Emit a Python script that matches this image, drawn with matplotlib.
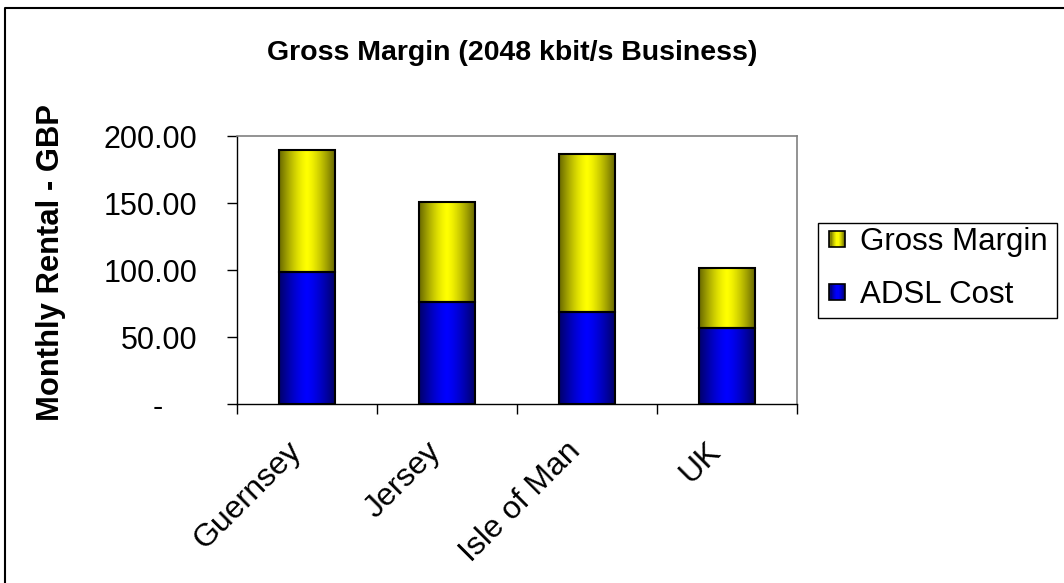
import numpy as np
import matplotlib
matplotlib.use("Agg")
import matplotlib.pyplot as plt
from matplotlib.patches import Rectangle, Patch
from matplotlib.lines import Line2D
from matplotlib.legend_handler import HandlerBase
from matplotlib.colors import to_rgb

# Monthly rental per territory (GBP), split into wholesale cost and margin
countries = ["Guernsey", "Jersey", "Isle of Man", "UK"]
adsl_cost = [98.4, 76.3, 68.6, 56.7]
gross_margin = [91.2, 74.7, 118.2, 44.9]
y_ticks = [0, 50, 100, 150, 200]
y_tick_labels = ["-    ", "50.00", "100.00", "150.00", "200.00"]
series_names = ["Gross Margin", "ADSL Cost"]

YELLOW = "#FFFF00"
BLUE = "#0000FF"

plt.rcParams["font.family"] = ["Liberation Sans", "DejaVu Sans"]

W, H = 1064, 583


def shade_profile(n):
    t = np.linspace(0, 1, n)
    return 1 - 0.6 * np.abs(2 * (t - 0.5)) ** 1.4


def gradient_rgb(color, n=256):
    base = np.array(to_rgb(color))
    return shade_profile(n)[:, None] * base[None, :]


class GradientHandler(HandlerBase):
    def __init__(self, color):
        super().__init__()
        self.color = color

    def create_artists(self, legend, orig_handle, xdescent, ydescent,
                       width, height, fontsize, trans):
        s = min(width, height)
        x0 = -xdescent + (width - s) / 2
        y0 = -ydescent + (height - s) / 2
        cols = gradient_rgb(self.color, 14)
        n = len(cols)
        arts = [Rectangle((x0 + i * s / n, y0), s / n, s, facecolor=c,
                          edgecolor="none", transform=trans)
                for i, c in enumerate(cols)]
        arts.append(Rectangle((x0, y0), s, s, facecolor="none",
                              edgecolor="black", lw=1.2, transform=trans))
        return arts


fig = plt.figure(figsize=(W / 100, H / 100), dpi=100)
ax = fig.add_axes([237 / W, 1 - 404.3 / H, 560 / W, 268.3 / H])

x = np.arange(len(countries))
bw = 0.4
bars_adsl = ax.bar(x, adsl_cost, bw, color=BLUE, edgecolor="black",
                   linewidth=1.5, zorder=3)
bars_gm = ax.bar(x, gross_margin, bw, bottom=adsl_cost, color=YELLOW,
                 edgecolor="black", linewidth=1.5, zorder=3)

# horizontal shading inside each bar
for bars, col in ((bars_adsl, BLUE), (bars_gm, YELLOW)):
    grad = gradient_rgb(col)[None, :, :]
    for p in bars.patches:
        x0, y0, w, h = p.get_x(), p.get_y(), p.get_width(), p.get_height()
        ax.imshow(grad, extent=[x0, x0 + w, y0, y0 + h], aspect="auto",
                  interpolation="bilinear", zorder=2)
        p.set_facecolor("none")

ax.set_xlim(-0.5, len(countries) - 0.5)
ax.set_ylim(0, 200)

for side in ("top", "right"):
    ax.spines[side].set_color("#808080")
    ax.spines[side].set_linewidth(1.2)
for side in ("left", "bottom"):
    ax.spines[side].set_color("black")
    ax.spines[side].set_linewidth(1.0)

ax.set_yticks(y_ticks, y_tick_labels)
ax.tick_params(axis="y", direction="out", length=7.5, width=1,
               labelsize=22, pad=21)

ax.set_xticks(np.arange(len(countries) + 1) - 0.5)
ax.set_xticklabels([])
ax.tick_params(axis="x", which="major", direction="out", length=7.5, width=1)
ax.set_xticks(x, minor=True)
ax.set_xticklabels(countries, minor=True, rotation=45, ha="right",
                   va="bottom", rotation_mode="anchor")
ax.tick_params(axis="x", which="minor", length=0, labelsize=23, pad=38)

fig.text(512 / W, 1 - 53 / H, "Gross Margin (2048 kbit/s Business)",
         ha="center", va="center", fontsize=20.5, fontweight="bold")
fig.text(51 / W, 1 - 263 / H, "Monthly Rental - GBP", rotation=90,
         ha="center", va="center", fontsize=22.3, fontweight="bold")

h_gm = Patch()
h_adsl = Patch()
leg = fig.legend([h_gm, h_adsl], series_names, loc="center left",
                 bbox_to_anchor=(818.3 / W, 1 - 268.5 / H), fontsize=22.5,
                 handler_map={h_gm: GradientHandler(YELLOW),
                              h_adsl: GradientHandler(BLUE)},
                 handlelength=0.52, handleheight=0.52, handletextpad=0.45,
                 labelspacing=0.72, borderpad=0.35, borderaxespad=0,
                 frameon=False)

# legend box
fig.add_artist(Rectangle((818 / W, 1 - 318 / H), (1057 - 818) / W, 95 / H,
                         facecolor="none", edgecolor="black", lw=1.0,
                         transform=fig.transFigure))

# chart frame (only the top and left edges fall inside the canvas)
fig.add_artist(Line2D([4.5 / W, 4.5 / W, 1.01], [-0.01, 1 - 8 / H, 1 - 8 / H],
                      color="black", lw=1.5, transform=fig.transFigure))

fig.savefig("out.png", dpi=100)
